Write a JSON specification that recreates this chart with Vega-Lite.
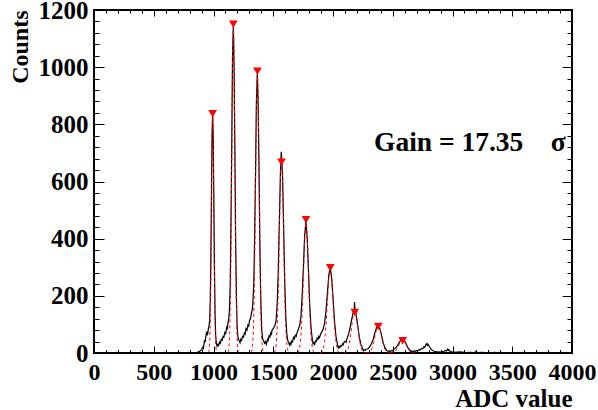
{
  "$schema": "https://vega.github.io/schema/vega-lite/v6.json",
  "width": 478,
  "height": 343,
  "autosize": {"type": "none"},
  "padding": {"left": 94, "top": 10, "right": 26, "bottom": 57},
  "background": "white",
  "config": {
    "view": {"stroke": "#000", "strokeWidth": 2},
    "axis": {"grid": false, "domain": false, "tickColor": "#000", "tickWidth": 1, "labelFlush": false, "format": "d",
      "labelFont": "Liberation Serif", "labelFontWeight": "bold", "labelFontSize": 25, "labelColor": "#000",
      "titleFont": "Liberation Serif", "titleFontWeight": "bold", "titleFontSize": 24, "titleColor": "#000"}
  },
  "datasets": {
    "hist": [
      {"x":0,"y":0},{"x":500,"y":0},{"x":800,"y":0},{"x":850,"y":1},{"x":870,"y":3},{"x":885,"y":6},{"x":900,"y":12},{"x":910,"y":20},{"x":915,"y":16},{"x":925,"y":45},{"x":930,"y":38},{"x":935,"y":55},{"x":943,"y":75},{"x":950,"y":62},{"x":957,"y":85},{"x":963,"y":95},{"x":968,"y":115},{"x":973,"y":188},{"x":978,"y":335},{"x":983,"y":555},{"x":988,"y":766},{"x":993,"y":835},{"x":998,"y":750},{"x":1003,"y":525},{"x":1008,"y":295},{"x":1013,"y":138},{"x":1018,"y":63},{"x":1023,"y":37},{"x":1030,"y":24},{"x":1035,"y":30},{"x":1042,"y":26},{"x":1050,"y":38},{"x":1057,"y":34},{"x":1065,"y":48},{"x":1072,"y":44},{"x":1080,"y":58},{"x":1087,"y":55},{"x":1095,"y":72},{"x":1102,"y":68},{"x":1110,"y":90},{"x":1116,"y":86},{"x":1122,"y":108},{"x":1127,"y":117},{"x":1133,"y":148},{"x":1140,"y":242},{"x":1146,"y":444},{"x":1153,"y":741},{"x":1159,"y":1032},{"x":1166,"y":1142},{"x":1172,"y":1008},{"x":1179,"y":705},{"x":1185,"y":398},{"x":1192,"y":191},{"x":1198,"y":90},{"x":1205,"y":54},{"x":1213,"y":45},{"x":1222,"y":36},{"x":1228,"y":48},{"x":1235,"y":44},{"x":1243,"y":58},{"x":1250,"y":55},{"x":1258,"y":70},{"x":1265,"y":66},{"x":1272,"y":85},{"x":1280,"y":80},{"x":1288,"y":98},{"x":1295,"y":94},{"x":1302,"y":115},{"x":1310,"y":120},{"x":1318,"y":140},{"x":1322,"y":145},{"x":1329,"y":170},{"x":1337,"y":243},{"x":1344,"y":400},{"x":1352,"y":642},{"x":1359,"y":881},{"x":1367,"y":978},{"x":1374,"y":863},{"x":1382,"y":607},{"x":1389,"y":345},{"x":1397,"y":168},{"x":1404,"y":80},{"x":1412,"y":48},{"x":1420,"y":42},{"x":1428,"y":34},{"x":1436,"y":40},{"x":1443,"y":31},{"x":1452,"y":48},{"x":1458,"y":44},{"x":1465,"y":60},{"x":1472,"y":56},{"x":1478,"y":70},{"x":1485,"y":66},{"x":1490,"y":80},{"x":1500,"y":85},{"x":1508,"y":92},{"x":1515,"y":97},{"x":1524,"y":116},{"x":1533,"y":172},{"x":1542,"y":288},{"x":1551,"y":460},{"x":1560,"y":630},{"x":1567,"y":704},{"x":1569,"y":690},{"x":1578,"y":620},{"x":1587,"y":438},{"x":1596,"y":253},{"x":1605,"y":127},{"x":1614,"y":64},{"x":1623,"y":41},{"x":1630,"y":36},{"x":1636,"y":28},{"x":1642,"y":35},{"x":1648,"y":30},{"x":1655,"y":42},{"x":1662,"y":39},{"x":1670,"y":55},{"x":1677,"y":50},{"x":1685,"y":62},{"x":1692,"y":58},{"x":1700,"y":72},{"x":1711,"y":84},{"x":1721,"y":96},{"x":1732,"y":129},{"x":1742,"y":200},{"x":1753,"y":308},{"x":1763,"y":413},{"x":1774,"y":458},{"x":1784,"y":403},{"x":1795,"y":288},{"x":1805,"y":170},{"x":1816,"y":89},{"x":1826,"y":50},{"x":1833,"y":32},{"x":1840,"y":36},{"x":1846,"y":30},{"x":1853,"y":42},{"x":1860,"y":40},{"x":1867,"y":52},{"x":1874,"y":48},{"x":1880,"y":58},{"x":1887,"y":54},{"x":1893,"y":62},{"x":1905,"y":73},{"x":1917,"y":83},{"x":1929,"y":103},{"x":1941,"y":145},{"x":1953,"y":209},{"x":1965,"y":273},{"x":1977,"y":299},{"x":1989,"y":261},{"x":2001,"y":187},{"x":2013,"y":110},{"x":2025,"y":58},{"x":2037,"y":31},{"x":2044,"y":18},{"x":2050,"y":23},{"x":2057,"y":19},{"x":2065,"y":26},{"x":2072,"y":24},{"x":2080,"y":32},{"x":2086,"y":29},{"x":2092,"y":38},{"x":2104,"y":41},{"x":2110,"y":38},{"x":2117,"y":50},{"x":2130,"y":65},{"x":2143,"y":88},{"x":2156,"y":117},{"x":2169,"y":142},{"x":2178,"y":150},{"x":2180,"y":178},{"x":2184,"y":148},{"x":2195,"y":129},{"x":2208,"y":92},{"x":2221,"y":54},{"x":2234,"y":29},{"x":2247,"y":17},{"x":2254,"y":8},{"x":2260,"y":11},{"x":2268,"y":9},{"x":2275,"y":13},{"x":2285,"y":14},{"x":2295,"y":16},{"x":2309,"y":23},{"x":2323,"y":34},{"x":2337,"y":49},{"x":2351,"y":71},{"x":2365,"y":90},{"x":2379,"y":97},{"x":2393,"y":84},{"x":2407,"y":60},{"x":2421,"y":34},{"x":2435,"y":18},{"x":2449,"y":9},{"x":2463,"y":5},{"x":2470,"y":8},{"x":2478,"y":5},{"x":2493,"y":9},{"x":2500,"y":7},{"x":2508,"y":12},{"x":2523,"y":17},{"x":2538,"y":25},{"x":2553,"y":36},{"x":2568,"y":46},{"x":2583,"y":49},{"x":2598,"y":44},{"x":2613,"y":31},{"x":2628,"y":18},{"x":2643,"y":10},{"x":2650,"y":4},{"x":2658,"y":7},{"x":2670,"y":5},{"x":2680,"y":7},{"x":2690,"y":6},{"x":2700,"y":9},{"x":2710,"y":8},{"x":2720,"y":12},{"x":2730,"y":11},{"x":2740,"y":16},{"x":2750,"y":15},{"x":2760,"y":22},{"x":2768,"y":20},{"x":2775,"y":28},{"x":2785,"y":33},{"x":2790,"y":27},{"x":2795,"y":30},{"x":2810,"y":20},{"x":2820,"y":14},{"x":2830,"y":10},{"x":2845,"y":6},{"x":2860,"y":5},{"x":2880,"y":4},{"x":2900,"y":3},{"x":2915,"y":5},{"x":2930,"y":6},{"x":2940,"y":9},{"x":2950,"y":7},{"x":2960,"y":14},{"x":2965,"y":9},{"x":2970,"y":11},{"x":2980,"y":6},{"x":2990,"y":4},{"x":3010,"y":3},{"x":3030,"y":2},{"x":3050,"y":4},{"x":3080,"y":3},{"x":3110,"y":1},{"x":3150,"y":2},{"x":3175,"y":1},{"x":3200,"y":5},{"x":3210,"y":1},{"x":3250,"y":2},{"x":3300,"y":0},{"x":3350,"y":2},{"x":3400,"y":0},{"x":3450,"y":1},{"x":3500,"y":0},{"x":3600,"y":1},{"x":3650,"y":0},{"x":3800,"y":0},{"x":4000,"y":0}
    ],
    "fit": [
      {"p":1,"x":958,"y":2},{"p":1,"x":963,"y":9},{"p":1,"x":968,"y":36},{"p":1,"x":973,"y":112},{"p":1,"x":978,"y":270},{"p":1,"x":983,"y":503},{"p":1,"x":988,"y":732},{"p":1,"x":993,"y":830},{"p":1,"x":998,"y":732},{"p":1,"x":1003,"y":503},{"p":1,"x":1008,"y":270},{"p":1,"x":1013,"y":112},{"p":1,"x":1018,"y":36},{"p":1,"x":1023,"y":9},{"p":1,"x":1028,"y":2},
      {"p":2,"x":1120.5,"y":3},{"p":2,"x":1127,"y":13},{"p":2,"x":1133.5,"y":50},{"p":2,"x":1140,"y":154},{"p":2,"x":1146.5,"y":370},{"p":2,"x":1153,"y":691},{"p":2,"x":1159.5,"y":1006},{"p":2,"x":1166,"y":1140},{"p":2,"x":1172.5,"y":1006},{"p":2,"x":1179,"y":691},{"p":2,"x":1185.5,"y":370},{"p":2,"x":1192,"y":154},{"p":2,"x":1198.5,"y":50},{"p":2,"x":1205,"y":13},{"p":2,"x":1211.5,"y":3},
      {"p":3,"x":1314.5,"y":2},{"p":3,"x":1322,"y":11},{"p":3,"x":1329.5,"y":43},{"p":3,"x":1337,"y":132},{"p":3,"x":1344.5,"y":317},{"p":3,"x":1352,"y":591},{"p":3,"x":1359.5,"y":860},{"p":3,"x":1367,"y":975},{"p":3,"x":1374.5,"y":860},{"p":3,"x":1382,"y":591},{"p":3,"x":1389.5,"y":317},{"p":3,"x":1397,"y":132},{"p":3,"x":1404.5,"y":43},{"p":3,"x":1412,"y":11},{"p":3,"x":1419.5,"y":2},
      {"p":4,"x":1506,"y":1.5},{"p":4,"x":1515,"y":8},{"p":4,"x":1524,"y":30},{"p":4,"x":1533,"y":92},{"p":4,"x":1542,"y":221},{"p":4,"x":1551,"y":412},{"p":4,"x":1560,"y":600},{"p":4,"x":1569,"y":680},{"p":4,"x":1578,"y":600},{"p":4,"x":1587,"y":412},{"p":4,"x":1596,"y":221},{"p":4,"x":1605,"y":92},{"p":4,"x":1614,"y":30},{"p":4,"x":1623,"y":8},{"p":4,"x":1632,"y":1.5},
      {"p":5,"x":1700.5,"y":1},{"p":5,"x":1711,"y":5},{"p":5,"x":1721.5,"y":20},{"p":5,"x":1732,"y":62},{"p":5,"x":1742.5,"y":148},{"p":5,"x":1753,"y":276},{"p":5,"x":1763.5,"y":402},{"p":5,"x":1774,"y":455},{"p":5,"x":1784.5,"y":402},{"p":5,"x":1795,"y":276},{"p":5,"x":1805.5,"y":148},{"p":5,"x":1816,"y":62},{"p":5,"x":1826.5,"y":20},{"p":5,"x":1837,"y":5},{"p":5,"x":1847.5,"y":1},
      {"p":6,"x":1893,"y":0.6},{"p":6,"x":1905,"y":3},{"p":6,"x":1917,"y":13},{"p":6,"x":1929,"y":40},{"p":6,"x":1941,"y":96},{"p":6,"x":1953,"y":179},{"p":6,"x":1965,"y":260},{"p":6,"x":1977,"y":295},{"p":6,"x":1989,"y":260},{"p":6,"x":2001,"y":179},{"p":6,"x":2013,"y":96},{"p":6,"x":2025,"y":40},{"p":6,"x":2037,"y":13},{"p":6,"x":2049,"y":3},{"p":6,"x":2061,"y":0.6},
      {"p":7,"x":2091,"y":0.3},{"p":7,"x":2104,"y":2},{"p":7,"x":2117,"y":7},{"p":7,"x":2130,"y":20},{"p":7,"x":2143,"y":49},{"p":7,"x":2156,"y":91},{"p":7,"x":2169,"y":132},{"p":7,"x":2182,"y":150},{"p":7,"x":2195,"y":132},{"p":7,"x":2208,"y":91},{"p":7,"x":2221,"y":49},{"p":7,"x":2234,"y":20},{"p":7,"x":2247,"y":7},{"p":7,"x":2260,"y":2},{"p":7,"x":2273,"y":0.3},
      {"p":8,"x":2281,"y":0.2},{"p":8,"x":2295,"y":1},{"p":8,"x":2309,"y":4},{"p":8,"x":2323,"y":13},{"p":8,"x":2337,"y":31},{"p":8,"x":2351,"y":58},{"p":8,"x":2365,"y":84},{"p":8,"x":2379,"y":95},{"p":8,"x":2393,"y":84},{"p":8,"x":2407,"y":58},{"p":8,"x":2421,"y":31},{"p":8,"x":2435,"y":13},{"p":8,"x":2449,"y":4},{"p":8,"x":2463,"y":1},{"p":8,"x":2477,"y":0.2},
      {"p":9,"x":2478,"y":0.1},{"p":9,"x":2493,"y":0.5},{"p":9,"x":2508,"y":2},{"p":9,"x":2523,"y":6.5},{"p":9,"x":2538,"y":16},{"p":9,"x":2553,"y":29},{"p":9,"x":2568,"y":42},{"p":9,"x":2583,"y":48},{"p":9,"x":2598,"y":42},{"p":9,"x":2613,"y":29},{"p":9,"x":2628,"y":16},{"p":9,"x":2643,"y":6.5},{"p":9,"x":2658,"y":2},{"p":9,"x":2673,"y":0.5},{"p":9,"x":2688,"y":0.1}
    ],
    "peaks": [
      {"x":993,"y":837},{"x":1166,"y":1150},{"x":1367,"y":986},{"x":1569,"y":667},{"x":1774,"y":466},{"x":1977,"y":298},{"x":2182,"y":142},{"x":2379,"y":93},{"x":2583,"y":43}
    ],
    "label": [{"x":2343,"y":707,"t":"Gain = 17.35\u00a0\u00a0\u00a0\u00a0σ"}]
  },
  "resolve": {"axis": {"x": "independent", "y": "independent"}},
  "layer": [
    {
      "data": {"name": "hist"},
      "mark": {"type": "line", "color": "#000", "strokeWidth": 1.2, "clip": true},
      "encoding": {
        "x": {"field": "x", "type": "quantitative", "scale": {"domain": [0, 4000], "nice": false, "zero": false},
          "axis": {"orient": "bottom", "values": [0,500,1000,1500,2000,2500,3000,3500,4000], "tickSize": -7, "labelPadding": 14, "labelFontSize": 24, "title": "ADC value", "titleAnchor": "end", "titlePadding": 2, "titleFontSize": 25}},
        "y": {"field": "y", "type": "quantitative", "scale": {"domain": [0, 1200], "nice": false},
          "axis": {"orient": "left", "values": [0,200,400,600,800,1000,1200], "tickSize": -10, "labelPadding": 16, "title": "Counts", "titleAnchor": "end", "titlePadding": 6}}
      }
    },
    {
      "data": {"name": "fit"},
      "mark": {"type": "line", "color": "#ff0000", "strokeWidth": 1, "strokeDash": [3, 3], "interpolate": "monotone"},
      "encoding": {
        "detail": {"field": "p", "type": "nominal"},
        "x": {"field": "x", "type": "quantitative",
          "axis": {"orient": "bottom", "values": [100,200,300,400,600,700,800,900,1100,1200,1300,1400,1600,1700,1800,1900,2100,2200,2300,2400,2600,2700,2800,2900,3100,3200,3300,3400,3600,3700,3800,3900], "tickSize": -3.5, "labels": false, "title": null}},
        "y": {"field": "y", "type": "quantitative",
          "axis": {"orient": "left", "values": [40,80,120,160,240,280,320,360,440,480,520,560,640,680,720,760,840,880,920,960,1040,1080,1120,1160], "tickSize": -5, "labels": false, "title": null}}
      }
    },
    {
      "data": {"name": "peaks"},
      "mark": {"type": "point", "shape": "triangle-down", "filled": true, "color": "#ff0000", "size": 75, "opacity": 1},
      "encoding": {
        "x": {"field": "x", "type": "quantitative",
          "axis": {"orient": "top", "values": [0,500,1000,1500,2000,2500,3000,3500,4000], "tickSize": -6, "labels": false, "title": null}},
        "y": {"field": "y", "type": "quantitative",
          "axis": {"orient": "right", "values": [0,200,400,600,800,1000,1200], "tickSize": -10, "labels": false, "title": null}}
      }
    },
    {
      "data": {"name": "label"},
      "mark": {"type": "text", "align": "left", "baseline": "alphabetic", "font": "Liberation Serif", "fontWeight": "bold", "fontSize": 27.5, "color": "#000"},
      "encoding": {
        "text": {"field": "t", "type": "nominal"},
        "x": {"field": "x", "type": "quantitative",
          "axis": {"orient": "top", "values": [100,200,300,400,600,700,800,900,1100,1200,1300,1400,1600,1700,1800,1900,2100,2200,2300,2400,2600,2700,2800,2900,3100,3200,3300,3400,3600,3700,3800,3900], "tickSize": -3, "labels": false, "title": null}},
        "y": {"field": "y", "type": "quantitative",
          "axis": {"orient": "right", "values": [40,80,120,160,240,280,320,360,440,480,520,560,640,680,720,760,840,880,920,960,1040,1080,1120,1160], "tickSize": -5, "labels": false, "title": null}}
      }
    }
  ]
}
